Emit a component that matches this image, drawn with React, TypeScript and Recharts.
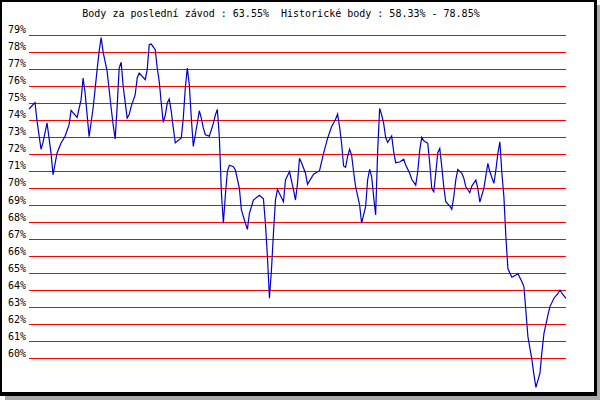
import { LineChart, Line, XAxis, YAxis, ReferenceLine } from 'recharts'

// race index (left to right) and points, in %
const races = [
  0, 3, 4, 6, 7, 9, 11, 12, 14, 16, 18, 20, 21, 24, 26, 27, 28, 29, 30, 32,
  34, 35, 36, 37, 39, 41, 42, 43, 44, 45, 46, 47, 49, 50, 51, 53, 54, 55, 58, 59,
  60, 61, 63, 64, 65, 66, 67, 68, 69, 70, 71, 72, 73, 76, 77, 78, 79, 80, 81, 82,
  83, 84, 85, 86, 87, 88, 90, 92, 93, 94, 95, 96, 97, 98, 99, 100, 102, 103, 105, 106,
  108, 109, 110, 112, 115, 117, 118, 119, 120, 121, 122, 123, 124, 127, 128, 130, 132, 133, 134, 135,
  136, 138, 139, 142, 145, 147, 149, 151, 153, 154, 155, 156, 157, 158, 159, 160, 161, 162, 163, 165,
  166, 168, 169, 170, 171, 172, 173, 174, 175, 176, 177, 178, 179, 181, 182, 183, 185, 187, 188, 190,
  191, 193, 194, 195, 196, 197, 199, 200, 201, 202, 203, 204, 205, 206, 207, 208, 210, 211, 212, 213,
  214, 216, 217, 218, 220, 221, 223, 224, 225, 227, 229, 230, 232, 233, 234, 235, 236, 237, 238, 239,
  240, 241, 243, 244, 246, 247, 248, 249, 251, 252, 253, 255, 256, 257, 259, 260, 262, 264, 265, 266,
  268,
]

const scores = [
  74.66, 75.04, 73.96, 72.3, 72.7, 73.85, 72.06, 70.8, 72.08, 72.67, 73.06, 73.74, 74.58, 74.17, 75.21, 76.48, 75.6, 74.33, 73.04, 74.72,
  76.97, 78.04, 78.85, 78.0, 76.87, 74.72, 73.74, 72.9, 74.8, 77.06, 77.4, 75.99, 74.13, 74.33, 74.82, 75.5, 76.48, 76.77, 76.38, 76.97,
  78.43, 78.47, 78.14, 77.06, 76.28, 75.01, 73.88, 74.29, 75.01, 75.25, 74.52, 73.55, 72.67, 72.96, 74.13, 75.89, 77.06, 76.09, 74.13, 72.47,
  73.15, 73.84, 74.56, 74.13, 73.55, 73.15, 73.07, 73.82, 74.31, 74.64, 73.0, 69.8, 67.96, 69.6, 71.0, 71.36, 71.28, 71.08, 70.0, 68.74,
  67.96, 67.6, 68.54, 69.32, 69.6, 69.4, 67.92, 65.99, 63.56, 65.22, 67.37, 69.32, 69.95, 69.22, 70.5, 70.99, 69.91, 69.32, 70.3, 71.77,
  71.51, 70.89, 70.24, 70.83, 71.04, 72.06, 72.94, 73.62, 74.06, 74.37, 73.62, 72.65, 71.32, 71.24, 71.86, 72.3, 71.96, 70.98, 70.1, 69.03,
  67.96, 68.93, 70.5, 71.12, 70.69, 69.52, 68.44, 72.16, 74.7, 74.31, 73.82, 73.0, 72.7, 73.08, 72.16, 71.51, 71.55, 71.71, 71.38, 70.89,
  70.54, 70.2, 70.98, 72.25, 73.0, 72.8, 72.65, 71.48, 70.0, 69.81, 70.89, 72.1, 72.35, 71.28, 70.1, 69.22, 68.97, 68.78, 69.52, 70.5,
  71.12, 70.89, 70.6, 70.1, 69.75, 70.14, 70.5, 70.0, 69.2, 70.0, 71.47, 70.98, 70.3, 71.08, 72.06, 72.74, 70.89, 69.52, 67.17, 65.3,
  65.02, 64.79, 64.92, 65.0, 64.53, 64.24, 62.77, 61.3, 59.94, 59.06, 58.33, 59.16, 60.43, 61.5, 62.58, 63.07, 63.56, 63.85, 64.04, 63.85,
  63.55,
]

const yTicks = [60, 61, 62, 63, 64, 65, 66, 67, 68, 69, 70, 71, 72, 73, 74, 75, 76, 77, 78, 79]

const title = 'Body za poslední závod : 63.55%  Historické body : 58.33% - 78.85%'

const data = races.map((race, i) => ({ race, score: scores[i] }))

const FONT = '"DejaVu Sans Mono", "Liberation Mono", monospace'

function PercentTick(props: any) {
  const { x, y, payload } = props
  return (
    <text x={x} y={y - 2} textAnchor="end" fontSize={10} fontFamily={FONT} fill="#000">
      {payload.value}%
    </text>
  )
}

export default function App() {
  return (
    <div style={{ position: 'absolute', left: 0, top: 0, width: 600, height: 400, background: '#fff' }}>
      {/* frame with grey drop shadow */}
      <div
        style={{
          position: 'absolute',
          left: 0,
          top: 0,
          width: 597,
          height: 396,
          boxSizing: 'border-box',
          borderStyle: 'solid',
          borderColor: '#000',
          borderWidth: '2px 3px 4px 2px',
          background: '#fff',
          boxShadow: '5px 5px 0 #aaaaaa',
        }}
      />
      <div style={{ position: 'absolute', left: 0, top: 0 }}>
        <LineChart width={600} height={400} data={data} margin={{ top: 18, right: 34, bottom: 7, left: 0 }}>
          <XAxis dataKey="race" type="number" domain={[0, 268]} hide />
          <YAxis
            domain={[58, 80]}
            ticks={yTicks}
            interval={0}
            width={29}
            axisLine={false}
            tickLine={false}
            tickSize={0}
            tickMargin={3}
            tick={<PercentTick />}
          />
          {yTicks.map((t) => (
            <ReferenceLine key={t} y={t} stroke="#ff0000" strokeWidth={1} shapeRendering="crispEdges" />
          ))}
          <Line
            type="linear"
            dataKey="score"
            stroke="#0000cc"
            strokeWidth={1.2}
            dot={false}
            activeDot={false}
            isAnimationActive={false}
          />
        </LineChart>
      </div>
      <svg width={600} height={30} style={{ position: 'absolute', left: 0, top: 0 }}>
        <text x={281} y={17} textAnchor="middle" fontSize={10} fontFamily={FONT} fill="#000" xmlSpace="preserve">
          {title}
        </text>
      </svg>
    </div>
  )
}
